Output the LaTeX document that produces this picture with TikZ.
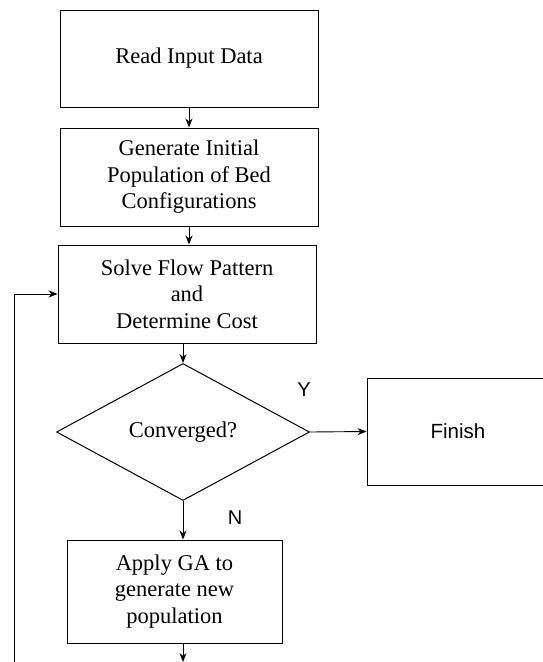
\documentclass[tikz,border=0pt]{standalone}
\usepackage{fontspec}
\setmainfont{Liberation Serif}
\setsansfont{Liberation Sans}
\usetikzlibrary{arrows.meta,shapes.geometric}

\begin{document}
\begin{tikzpicture}[x=1pt,y=-1pt,
  box/.style={draw,line width=1pt,inner sep=0pt,align=center,font=\fontsize{22.5}{26.5}\selectfont},
  decision/.style={draw,diamond,line width=1pt,inner sep=0pt,minimum width=253pt,minimum height=137pt,font=\fontsize{22.5}{26.5}\selectfont},
  lbl/.style={font=\sffamily\fontsize{20}{24}\selectfont},
  flow/.style={-{Stealth[length=9pt,width=7pt]},line width=0.9pt}]
\useasboundingbox (0,0) rectangle (543,662);
\clip (0,0) rectangle (543,662);
% process boxes
\node[box,minimum width=258pt,minimum height=97pt] (read) at (189,58.5) {Read Input Data};
\node[box,minimum width=258pt,minimum height=98pt] (gen) at (189,177) {Generate Initial\\Population of Bed\\Configurations};
\node[box,minimum width=258pt,minimum height=98pt] (solve) at (187,294) {Solve Flow Pattern\\and\\Determine Cost};
\node[decision] (conv) at (183,432) {Converged?};
\node[box,font=\sffamily\fontsize{20.5}{24}\selectfont,minimum width=182pt,minimum height=107pt] (finish) at (458,431.5) {Finish};
\node[box,minimum width=215pt,minimum height=103pt] (ga) at (174.5,591.5) {Apply GA to\\generate new\\population};
% branch labels
\node[lbl] (yes) at (304,390) {Y};
\node[lbl] (no) at (235,518) {N};
% loop ends at the lower edge
\coordinate (cut) at (183,662);
\coordinate (back) at (14,662);
% connectors
\draw[flow] (read.south) -- (read.south |- gen.north);
\draw[flow] (gen.south) -- (gen.south |- solve.north);
\draw[flow] (conv.north |- solve.south) -- (conv.north);
\draw[flow] (conv.east) -- (finish.west);
\draw[flow] (conv.south) -- (conv.south |- ga.north);
\draw[flow] (conv.south |- ga.south) -- (cut);
\draw[flow] (back) |- (solve.west);
\end{tikzpicture}
\end{document}
